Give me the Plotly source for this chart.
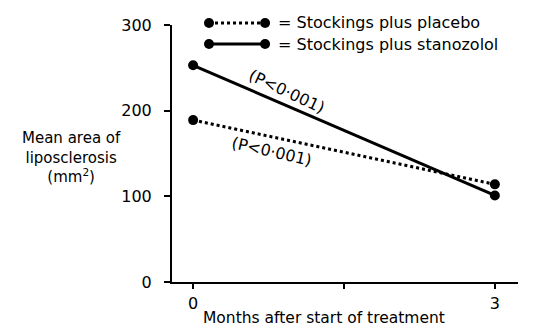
import plotly.graph_objects as go

months = [0, 3]
placebo = [189, 114]
stanozolol = [253, 101]
series_names = ["Stockings plus placebo", "Stockings plus stanozolol"]
y_ticks = [0, 100, 200, 300]
x_ticks = [0, 3]
x_minor_ticks = [1.5]
p_label = "(P<0·001)"

FONT = "DejaVu Sans"
fig = go.Figure()

fig.add_trace(go.Scatter(x=months, y=placebo, mode="lines+markers",
                         line=dict(color="black", width=3, dash="dot"),
                         marker=dict(color="black", size=10),
                         cliponaxis=False, showlegend=False, hoverinfo="skip"))
fig.add_trace(go.Scatter(x=months, y=stanozolol, mode="lines+markers",
                         line=dict(color="black", width=3),
                         marker=dict(color="black", size=10),
                         cliponaxis=False, showlegend=False, hoverinfo="skip"))

# legend keys (custom, line with dots at both ends)
shapes = []
annotations = []
for i, (name, dash) in enumerate(zip(series_names, ["dot", "solid"])):
    yk = [1.008, 0.926][i]
    xa, xb = 0.107, 0.269
    shapes.append(dict(type="line", xref="paper", yref="paper", x0=xa, x1=xb, y0=yk, y1=yk,
                       line=dict(color="black", width=3, dash=dash)))
    for xc in (xa, xb):
        shapes.append(dict(type="circle", xref="paper", yref="paper",
                           xsizemode="pixel", ysizemode="pixel",
                           xanchor=xc, yanchor=yk, x0=-5, x1=5, y0=-5, y1=5,
                           fillcolor="black", line=dict(color="black", width=0)))
    annotations.append(dict(xref="paper", yref="paper", x=0.302, y=yk, xanchor="left",
                            yanchor="middle", showarrow=False, text="= " + name,
                            font=dict(family=FONT, size=16, color="black")))

annotations.append(dict(x=0.93, y=222, text=p_label, showarrow=False, textangle=25,
                        font=dict(family=FONT, size=16, color="black")))
annotations.append(dict(x=0.78, y=152, text=p_label, showarrow=False, textangle=13,
                        font=dict(family=FONT, size=16, color="black")))
annotations.append(dict(xref="paper", yref="paper", x=-0.29, y=0.485,
                        text="Mean area of<br>liposclerosis<br>(mm<sup>2</sup>)",
                        showarrow=False, xanchor="center", yanchor="middle",
                        font=dict(family=FONT, size=15, color="black")))
annotations.append(dict(xref="paper", yref="paper", x=0.44, y=-0.14,
                        text="Months after start of treatment",
                        showarrow=False, xanchor="center", yanchor="middle",
                        font=dict(family=FONT, size=15.5, color="black")))

fig.update_layout(
    width=545, height=327,
    margin=dict(l=172, r=27, t=25, b=45),
    paper_bgcolor="white", plot_bgcolor="white",
    font=dict(family=FONT, size=16, color="black"),
    shapes=shapes, annotations=annotations,
    xaxis=dict(range=[-0.21, 3.23], tickvals=x_ticks,
               showgrid=False, zeroline=False, showline=True, linecolor="black", linewidth=2,
               ticks="outside", ticklen=5, tickwidth=2, tickcolor="black", ticklabelstandoff=1,
               minor=dict(tickvals=x_minor_ticks, ticks="outside", ticklen=5, tickwidth=2,
                          tickcolor="black", showgrid=False)),
    yaxis=dict(range=[0, 300], tickvals=y_ticks, showgrid=False, zeroline=False,
               showline=True, linecolor="black", linewidth=2,
               ticks="outside", ticklen=6, tickwidth=2, tickcolor="black", ticklabelstandoff=9),
)

fig.write_html("out.html", config={"displayModeBar": False, "staticPlot": True},
               post_script="document.body.style.margin='0';")
